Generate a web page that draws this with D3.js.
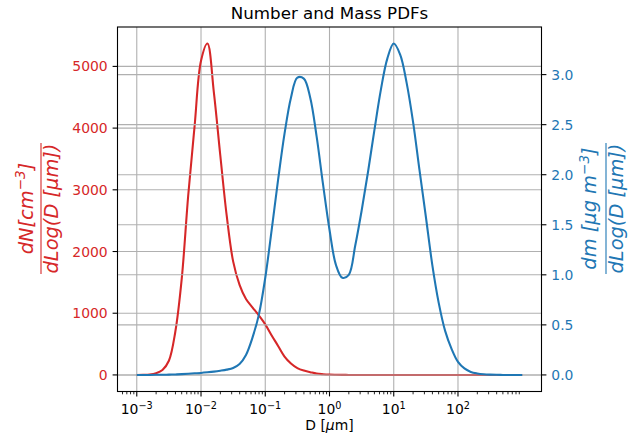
<!DOCTYPE html>
<html>
<head>
<meta charset="utf-8">
<script src="https://cdn.jsdelivr.net/npm/d3@7"></script>
<style>
  body { margin: 0; background: #fff; overflow: hidden; }
  svg { display: block; font-family: "DejaVu Sans", sans-serif; }
</style>
</head>
<body>
<div id="chart"></div>
<script>
// ---- data ----
// log10 of particle diameter D [um]
const logDiameters = [
  -3.0, -2.9, -2.8, -2.7, -2.6, -2.5, -2.4, -2.3, -2.2, -2.1,
  -2.0, -1.9, -1.8, -1.7, -1.6, -1.5, -1.4, -1.3, -1.2, -1.1,
  -1.0, -0.9, -0.8, -0.7, -0.6, -0.5, -0.4, -0.3, -0.2, -0.1,
   0.0,  0.1,  0.2,  0.3,  0.4,  0.5,  0.6,  0.7,  0.8,  0.9,
   1.0,  1.1,  1.2,  1.3,  1.4,  1.5,  1.6,  1.7,  1.8,  1.9,
   2.0,  2.1,  2.2,  2.3,  2.4,  2.5,  2.6,  2.7,  2.8,  2.9,
   3.0
];

// dN / dLog(D)  [cm^-3]
const numberPdf = [
  0, 1, 6, 27, 81, 230, 700, 1560, 2900, 4030,
  5090, 5370, 4580, 3560, 2580, 1840, 1460, 1230, 1095, 965,
  820, 640, 470, 297, 185, 110, 70, 45, 22, 12,
  6, 3, 1, 0, 0, 0, 0, 0, 0, 0,
  0, 0, 0, 0, 0, 0, 0, 0, 0, 0,
  0, 0, 0, 0, 0, 0, 0, 0, 0, 0,
  0
];

// dm / dLog(D)  [ug m^-3]
const massPdf = [
  0.0, 0.0, 0.0, 0.001, 0.002, 0.003, 0.005, 0.008, 0.012, 0.016,
  0.02, 0.026, 0.033, 0.042, 0.053, 0.07, 0.11, 0.2, 0.37, 0.6,
  0.97, 1.45, 1.95, 2.41, 2.77, 2.97, 2.96, 2.77, 2.38, 1.9,
  1.45, 1.1, 0.97, 1.0, 1.29, 1.64, 2.03, 2.45, 2.85, 3.16,
  3.31, 3.2, 2.92, 2.53, 2.05, 1.58, 1.1, 0.72, 0.44, 0.26,
  0.13, 0.065, 0.03, 0.015, 0.007, 0.003, 0.001, 0.0, 0.0, 0.0,
  0.0
];

const xMajorTicks = [1e-3, 1e-2, 1e-1, 1e0, 1e1, 1e2];
const xTickExponents = ["\u22123", "\u22122", "\u22121", "0", "1", "2"];
const numberTicks = [0, 1000, 2000, 3000, 4000, 5000];
const massTicks = [0, 0.5, 1.0, 1.5, 2.0, 2.5, 3.0];

// ---- layout ----
const width = 631, height = 442;
const margin = { top: 27, right: 89.5, bottom: 50.5, left: 117.5 };
const innerWidth = width - margin.left - margin.right;
const innerHeight = height - margin.top - margin.bottom;

const red = "#d62728";
const blue = "#1f77b4";
const gridColor = "#b0b0b0";

const rows = logDiameters.map((l, i) => ({ d: Math.pow(10, l), n: numberPdf[i], m: massPdf[i] }));

// ---- scales (matplotlib-like 5% margins) ----
const lo = d3.min(logDiameters), hi = d3.max(logDiameters);
const xPad = (hi - lo) * 0.05;
const xScale = d3.scaleLog()
  .domain([Math.pow(10, lo - xPad), Math.pow(10, hi + xPad)])
  .range([0, innerWidth]);

const pad = (arr) => {
  const a = d3.min(arr), b = d3.max(arr);
  return [a - (b - a) * 0.05, b + (b - a) * 0.05];
};
const yNumber = d3.scaleLinear().domain(pad(numberPdf)).range([innerHeight, 0]);
const yMass = d3.scaleLinear().domain(pad(massPdf)).range([innerHeight, 0]);

// minor ticks on the log axis (2..9 x 10^k inside the view)
const xMinorTicks = [];
[-4, -3, -2, -1, 0, 1, 2].forEach(k => {
  for (let j = 2; j <= 9; j++) {
    const v = j * Math.pow(10, k);
    if (v >= xScale.domain()[0] && v <= xScale.domain()[1]) xMinorTicks.push(v);
  }
});

// ---- svg ----
const svg = d3.select("#chart")
  .append("svg")
  .attr("width", width)
  .attr("height", height);

const innerChart = svg.append("g")
  .attr("transform", `translate(${margin.left}, ${margin.top})`);

// vertical grid
innerChart.selectAll(".xgrid")
  .data(xMajorTicks)
  .join("line")
  .attr("x1", d => xScale(d)).attr("x2", d => xScale(d))
  .attr("y1", 0).attr("y2", innerHeight)
  .attr("stroke", gridColor).attr("stroke-width", 1.1);

// horizontal grid, number axis
innerChart.selectAll(".ngrid")
  .data(numberTicks)
  .join("line")
  .attr("x1", 0).attr("x2", innerWidth)
  .attr("y1", d => yNumber(d)).attr("y2", d => yNumber(d))
  .attr("stroke", gridColor).attr("stroke-width", 1.1);

const numberLine = d3.line()
  .x(d => xScale(d.d))
  .y(d => yNumber(d.n))
  .curve(d3.curveCatmullRom.alpha(0.5));

innerChart.append("path")
  .datum(rows)
  .attr("d", numberLine)
  .attr("fill", "none")
  .attr("stroke", red)
  .attr("stroke-width", 2.08);

// horizontal grid, mass axis (twin axes drawn on top)
innerChart.selectAll(".mgrid")
  .data(massTicks)
  .join("line")
  .attr("x1", 0).attr("x2", innerWidth)
  .attr("y1", d => yMass(d)).attr("y2", d => yMass(d))
  .attr("stroke", gridColor).attr("stroke-width", 1.1);

const massLine = d3.line()
  .x(d => xScale(d.d))
  .y(d => yMass(d.m))
  .curve(d3.curveCatmullRom.alpha(0.5));

innerChart.append("path")
  .datum(rows)
  .attr("d", massLine)
  .attr("fill", "none")
  .attr("stroke", blue)
  .attr("stroke-width", 2.08);

// spines
innerChart.append("rect")
  .attr("x", 0).attr("y", 0)
  .attr("width", innerWidth).attr("height", innerHeight)
  .attr("fill", "none").attr("stroke", "#000").attr("stroke-width", 1.1);

// ---- x axis ----
const xAxisG = innerChart.append("g")
  .attr("transform", `translate(0, ${innerHeight})`);

xAxisG.selectAll(".minor")
  .data(xMinorTicks)
  .join("line")
  .attr("x1", d => xScale(d)).attr("x2", d => xScale(d))
  .attr("y1", 0).attr("y2", 2.8)
  .attr("stroke", "#000").attr("stroke-width", 0.85);

xAxisG.selectAll(".major")
  .data(xMajorTicks)
  .join("line")
  .attr("x1", d => xScale(d)).attr("x2", d => xScale(d))
  .attr("y1", 0).attr("y2", 4.9)
  .attr("stroke", "#000").attr("stroke-width", 1.1);

const xLabels = xAxisG.selectAll(".xlab")
  .data(xMajorTicks)
  .join("text")
  .attr("x", d => xScale(d))
  .attr("y", 22.5)
  .attr("text-anchor", "middle")
  .attr("font-size", "13.9px")
  .attr("fill", "#000");
xLabels.append("tspan").text("10");
xLabels.append("tspan")
  .attr("dy", -5.5)
  .attr("font-size", "9.7px")
  .text((d, i) => xTickExponents[i]);

const xTitle = svg.append("text")
  .attr("x", margin.left + innerWidth / 2)
  .attr("y", 429.5)
  .attr("text-anchor", "middle")
  .attr("font-size", "13.9px");
xTitle.append("tspan").text("D [");
xTitle.append("tspan").attr("font-style", "italic").text("\u03bc");
xTitle.append("tspan").text("m]");

// ---- left axis (number) ----
const leftG = innerChart.append("g");
leftG.selectAll("line")
  .data(numberTicks)
  .join("line")
  .attr("x1", -4.9).attr("x2", 0)
  .attr("y1", d => yNumber(d)).attr("y2", d => yNumber(d))
  .attr("stroke", "#000").attr("stroke-width", 1.1);
leftG.selectAll("text")
  .data(numberTicks)
  .join("text")
  .attr("x", -9.8)
  .attr("y", d => yNumber(d) + 5)
  .attr("text-anchor", "end")
  .attr("font-size", "13.9px")
  .attr("fill", red)
  .text(d => d);

// ---- right axis (mass) ----
const rightG = innerChart.append("g")
  .attr("transform", `translate(${innerWidth}, 0)`);
rightG.selectAll("line")
  .data(massTicks)
  .join("line")
  .attr("x1", 0).attr("x2", 4.9)
  .attr("y1", d => yMass(d)).attr("y2", d => yMass(d))
  .attr("stroke", "#000").attr("stroke-width", 1.1);
rightG.selectAll("text")
  .data(massTicks)
  .join("text")
  .attr("x", 9.8)
  .attr("y", d => yMass(d) + 5)
  .attr("text-anchor", "start")
  .attr("font-size", "13.9px")
  .attr("fill", blue)
  .text(d => d.toFixed(1));

// ---- fraction-style y labels ----
const fractionLabel = (cx, numParts, denText, color, numY) => {
  const g = svg.append("g")
    .attr("transform", `translate(${cx}, 208.5) rotate(-90)`)
    .attr("fill", color)
    .attr("font-size", "19.4px")
    .attr("font-style", "italic");
  const num = g.append("text").attr("x", 0).attr("y", numY).attr("text-anchor", "middle");
  numParts.forEach(p => {
    const t = num.append("tspan").text(p.text);
    if (p.sup) t.attr("font-size", "13.6px").attr("dy", -7.5);
    if (p.down) t.attr("dy", 7.5);
  });
  g.append("line")
    .attr("x1", -65.5).attr("x2", 65.5)
    .attr("y1", 0).attr("y2", 0)
    .attr("stroke", color).attr("stroke-width", 1.1);
  g.append("text")
    .attr("x", 0).attr("y", 16.6)
    .attr("text-anchor", "middle")
    .text(denText);
};

fractionLabel(41, [
  { text: "dN[cm" }, { text: "\u22123", sup: true }, { text: "]", down: true }
], "dLog(D [\u03bcm])", red, -8.5);

fractionLabel(606, [
  { text: "dm [\u03bcg m" }, { text: "\u22123", sup: true }, { text: "]", down: true }
], "dLog(D [\u03bcm])", blue, -10);

// ---- title ----
svg.append("text")
  .attr("x", margin.left + innerWidth / 2)
  .attr("y", 19)
  .attr("text-anchor", "middle")
  .attr("font-size", "16.7px")
  .text("Number and Mass PDFs");
</script>
</body>
</html>
